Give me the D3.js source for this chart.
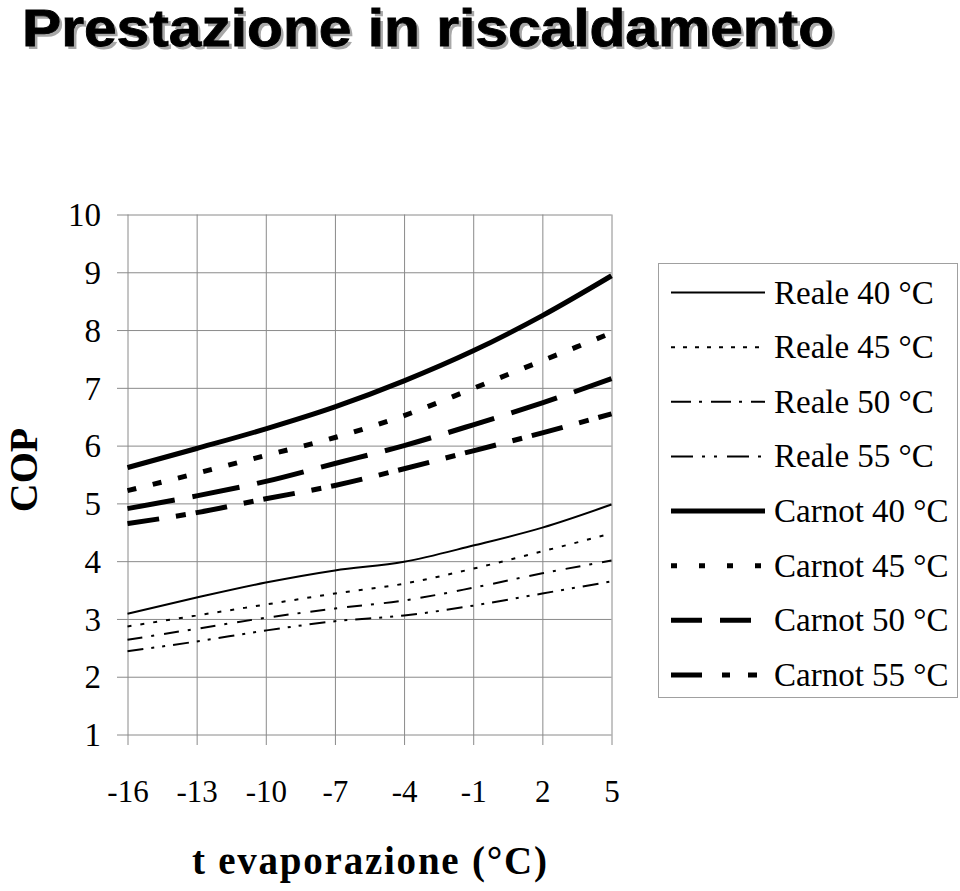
<!DOCTYPE html>
<html>
<head>
<meta charset="utf-8">
<script src="https://cdn.jsdelivr.net/npm/d3@7"></script>
<style>
  html, body { margin: 0; padding: 0; background: #fff; }
  svg { display: block; }
</style>
</head>
<body>
<svg id="chart" width="960" height="891"></svg>
<script>
// ---- data ----
const titleText = "Prestazione in riscaldamento";
const yTitle = "COP";
const xTitle = "t evaporazione (°C)";
const xCategories = [-16, -13, -10, -7, -4, -1, 2, 5];
const yTickValues = [1, 2, 3, 4, 5, 6, 7, 8, 9, 10];
const seriesNames = ["Reale 40 °C", "Reale 45 °C", "Reale 50 °C", "Reale 55 °C",
                     "Carnot 40 °C", "Carnot 45 °C", "Carnot 50 °C", "Carnot 55 °C"];
const reale40  = [3.09, 3.37, 3.63, 3.84, 3.99, 4.27, 4.58, 4.98];
const reale45  = [2.87, 3.06, 3.25, 3.44, 3.61, 3.87, 4.17, 4.48];
const reale50  = [2.64, 2.83, 3.02, 3.18, 3.32, 3.54, 3.79, 4.01];
const reale55  = [2.44, 2.61, 2.80, 2.96, 3.06, 3.23, 3.44, 3.65];
const carnot40 = [5.62, 5.95, 6.29, 6.67, 7.12, 7.64, 8.25, 8.94];
const carnot45 = [5.22, 5.52, 5.83, 6.14, 6.52, 6.99, 7.47, 7.95];
const carnot50 = [4.91, 5.13, 5.38, 5.69, 6.00, 6.36, 6.74, 7.16];
const carnot55 = [4.65, 4.84, 5.08, 5.31, 5.60, 5.91, 6.22, 6.55];
const seriesValues = [reale40, reale45, reale50, reale55, carnot40, carnot45, carnot50, carnot55];

// ---- styles ----
const lineWidths  = [2, 2, 2, 2, 5, 5, 5, 5];
const plotDashes  = ["none", "4,9", "15,9,3,10", "16,8,3,8,3,8", "none", "9,17", "48,18", "32,17,10,10"];
const legendDashes = ["none", "4,8", "20,8,3,9", "22,9,3,9,3,10", "none", "6,22", "31,18", "31,20,8,18,9"];

const svg = d3.select("#chart");
const serif = "'Liberation Serif', 'Times New Roman', serif";
const sans = "'Liberation Sans', Arial, sans-serif";

// Title with shadow
const tg = svg.append("g");
tg.append("text").attr("x", 25).attr("y", 49)
  .attr("font-family", sans).attr("font-weight", "bold")
  .attr("font-size", 51).attr("fill", "#a8a8a8")
  .attr("textLength", 812).attr("lengthAdjust", "spacingAndGlyphs").text(titleText);
tg.append("text").attr("x", 22).attr("y", 46)
  .attr("font-family", sans).attr("font-weight", "bold")
  .attr("font-size", 51).attr("fill", "#000").attr("stroke", "#000").attr("stroke-width", 0.8)
  .attr("textLength", 812).attr("lengthAdjust", "spacingAndGlyphs").text(titleText);

// Scales
const pLeft = 127.5, pRight = 611.5, pTop = 214.5, pBottom = 734.5;
const x = d3.scalePoint().domain(xCategories).range([pLeft, pRight]);
const y = d3.scaleLinear().domain([1, 10]).range([pBottom, pTop]);

// Y grid + labels (axis placed at right edge, ticks extend left past the axis)
const yAxis = d3.axisLeft(y).tickValues(yTickValues).tickSize(pRight - 117).tickPadding(16);
const gy = svg.append("g").attr("transform", `translate(${pRight},0)`).call(yAxis);
gy.select(".domain").remove();
gy.selectAll(".tick line").attr("stroke", "#8a8a8a").attr("stroke-width", 1);
gy.selectAll(".tick text").attr("font-family", serif).attr("font-size", 33).attr("fill", "#000")
  .attr("dy", "0.34em");

// X grid + labels (axis placed at top, ticks extend down past the bottom)
const xAxis = d3.axisBottom(x).tickSize(745 - pTop).tickPadding(0);
const gx = svg.append("g").attr("transform", `translate(0,${pTop})`).call(xAxis);
gx.select(".domain").remove();
gx.selectAll(".tick line").attr("stroke", "#8a8a8a").attr("stroke-width", 1);
gx.selectAll(".tick text").attr("font-family", serif).attr("font-size", 31).attr("fill", "#000")
  .attr("y", 802 - pTop).attr("dy", 0);

// Axis titles
svg.append("text").attr("transform", "translate(37,470) rotate(-90)")
  .attr("text-anchor", "middle").attr("font-family", serif).attr("font-weight", "bold")
  .attr("font-size", 40).text(yTitle);
svg.append("text").attr("x", 192).attr("y", 874)
  .attr("font-family", serif).attr("font-weight", "bold").attr("font-size", 39)
  .attr("textLength", 355).attr("lengthAdjust", "spacing").text(xTitle);

// Lines
const line = d3.line().x((d, i) => x(xCategories[i])).y(d => y(d)).curve(d3.curveMonotoneX);
svg.append("g").selectAll("path").data(seriesValues).join("path")
  .attr("d", d => line(d))
  .attr("fill", "none").attr("stroke", "#000")
  .attr("stroke-width", (d, i) => lineWidths[i])
  .attr("stroke-dasharray", (d, i) => plotDashes[i]);

// Legend
const lg = svg.append("g");
lg.append("rect").attr("x", 658.5).attr("y", 263.5).attr("width", 299).attr("height", 434)
  .attr("fill", "#fff").attr("stroke", "#a0a0a0").attr("stroke-width", 1);
const rowY = d3.scaleLinear().domain([0, 7]).range([292.5, 675]);
const rows = lg.selectAll("g.row").data(seriesNames).join("g").attr("class", "row")
  .attr("transform", (d, i) => `translate(0,${rowY(i)})`);
rows.append("line").attr("x1", 671).attr("x2", 765).attr("y1", 0).attr("y2", 0)
  .attr("stroke", "#000").attr("stroke-width", (d, i) => lineWidths[i])
  .attr("stroke-dasharray", (d, i) => legendDashes[i]);
rows.append("text").attr("x", 774).attr("y", 11)
  .attr("font-family", serif).attr("font-size", 33).attr("fill", "#000")
  .text(d => d);
</script>
</body>
</html>
